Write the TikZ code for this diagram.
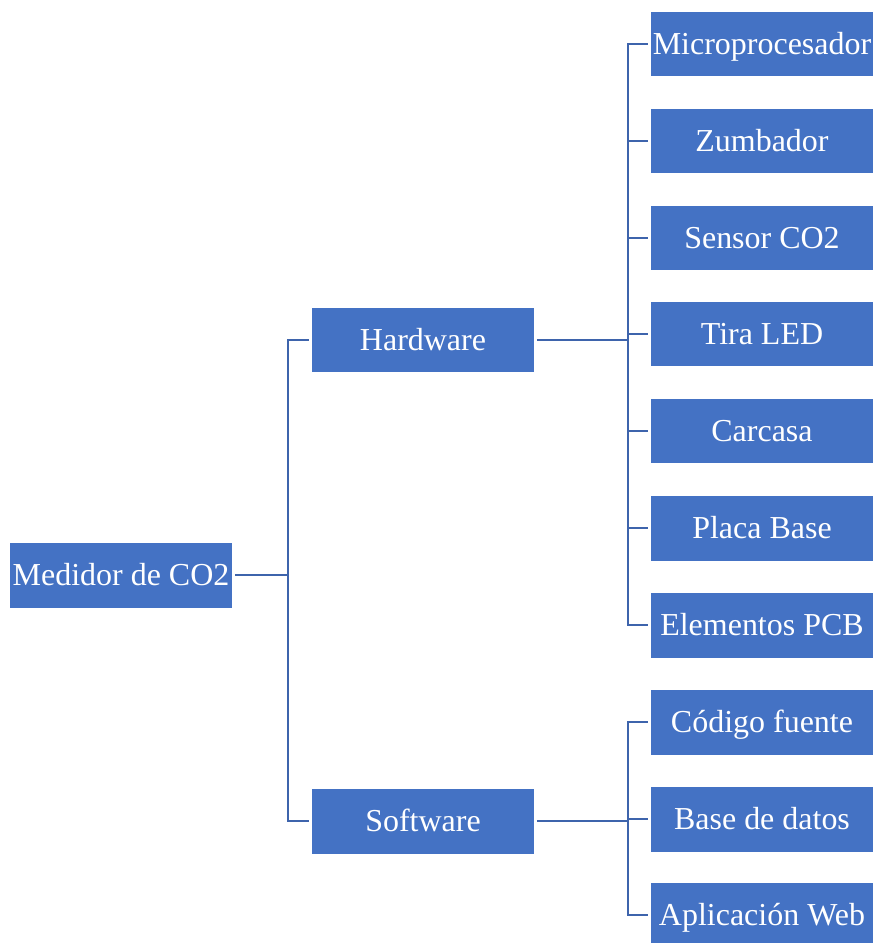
\documentclass[tikz,border=0pt]{standalone}
\usepackage{fontspec}
\setmainfont{Liberation Serif}
\newfontfamily\boxfont{Liberation Serif}
\usepackage{xcolor}
\usetikzlibrary{positioning}
\definecolor{boxblue}{RGB}{68,114,196}
\definecolor{lineblue}{RGB}{62,100,172}

\begin{document}
\begin{tikzpicture}[x=0.02cm,y=-0.02cm]
            \tikzstyle{box}=[rectangle,fill=boxblue,text=white,inner sep=0pt,outer sep=1.7pt,minimum width=4.44cm,minimum height=1.3cm,text height=11.4pt,text depth=0pt,font=\boxfont\fontsize{18.2}{20}\selectfont]
            \tikzstyle{link}=[lineblue,line width=1.6pt]

            \useasboundingbox (0,0) rectangle (873,943);

            % Root and second level
            \node[box] (root) at (121,575) {Medidor de CO2};
            \node[box] (hw) at (423,340) {Hardware};
            \node[box] (sw) at (423,821) {Software};

            % Hardware parts
            \node[box] (micro) at (762,44) {Microprocesador};
            \node[box] (zumb) at (762,141) {Zumbador};
            \node[box] (sensor) at (762,238) {Sensor CO2};
            \node[box] (tira) at (762,334) {Tira LED};
            \node[box] (carc) at (762,431) {Carcasa};
            \node[box] (placa) at (762,528) {Placa Base};
            \node[box] (pcb) at (762,625) {Elementos PCB};

            % Software parts
            \node[box] (codigo) at (762,722) {Código fuente};
            \node[box] (datos) at (762,819) {Base de datos};
            \node[box] (web) at (762,915) {Aplicación Web};

            % Junction points
            \coordinate (rootjoin) at (288,575);
            \coordinate (hwjoin) at (628,340);
            \coordinate (swjoin) at (628,821);

            % Connectors from the root
            \draw[link] (root.east) -- (rootjoin);
            \draw[link] (rootjoin) |- (hw.west);
            \draw[link] (rootjoin) |- (sw.west);

            % Connectors to the hardware parts
            \draw[link] (hw.east) -- (hwjoin);
            \draw[link] (hwjoin) |- (micro.west);
            \draw[link] (hwjoin) |- (zumb.west);
            \draw[link] (hwjoin) |- (sensor.west);
            \draw[link] (hwjoin) |- (tira.west);
            \draw[link] (hwjoin) |- (carc.west);
            \draw[link] (hwjoin) |- (placa.west);
            \draw[link] (hwjoin) |- (pcb.west);

            % Connectors to the software parts
            \draw[link] (sw.east) -- (swjoin);
            \draw[link] (swjoin) |- (codigo.west);
            \draw[link] (swjoin) |- (datos.west);
            \draw[link] (swjoin) |- (web.west);
        \end{tikzpicture}
\end{document}
